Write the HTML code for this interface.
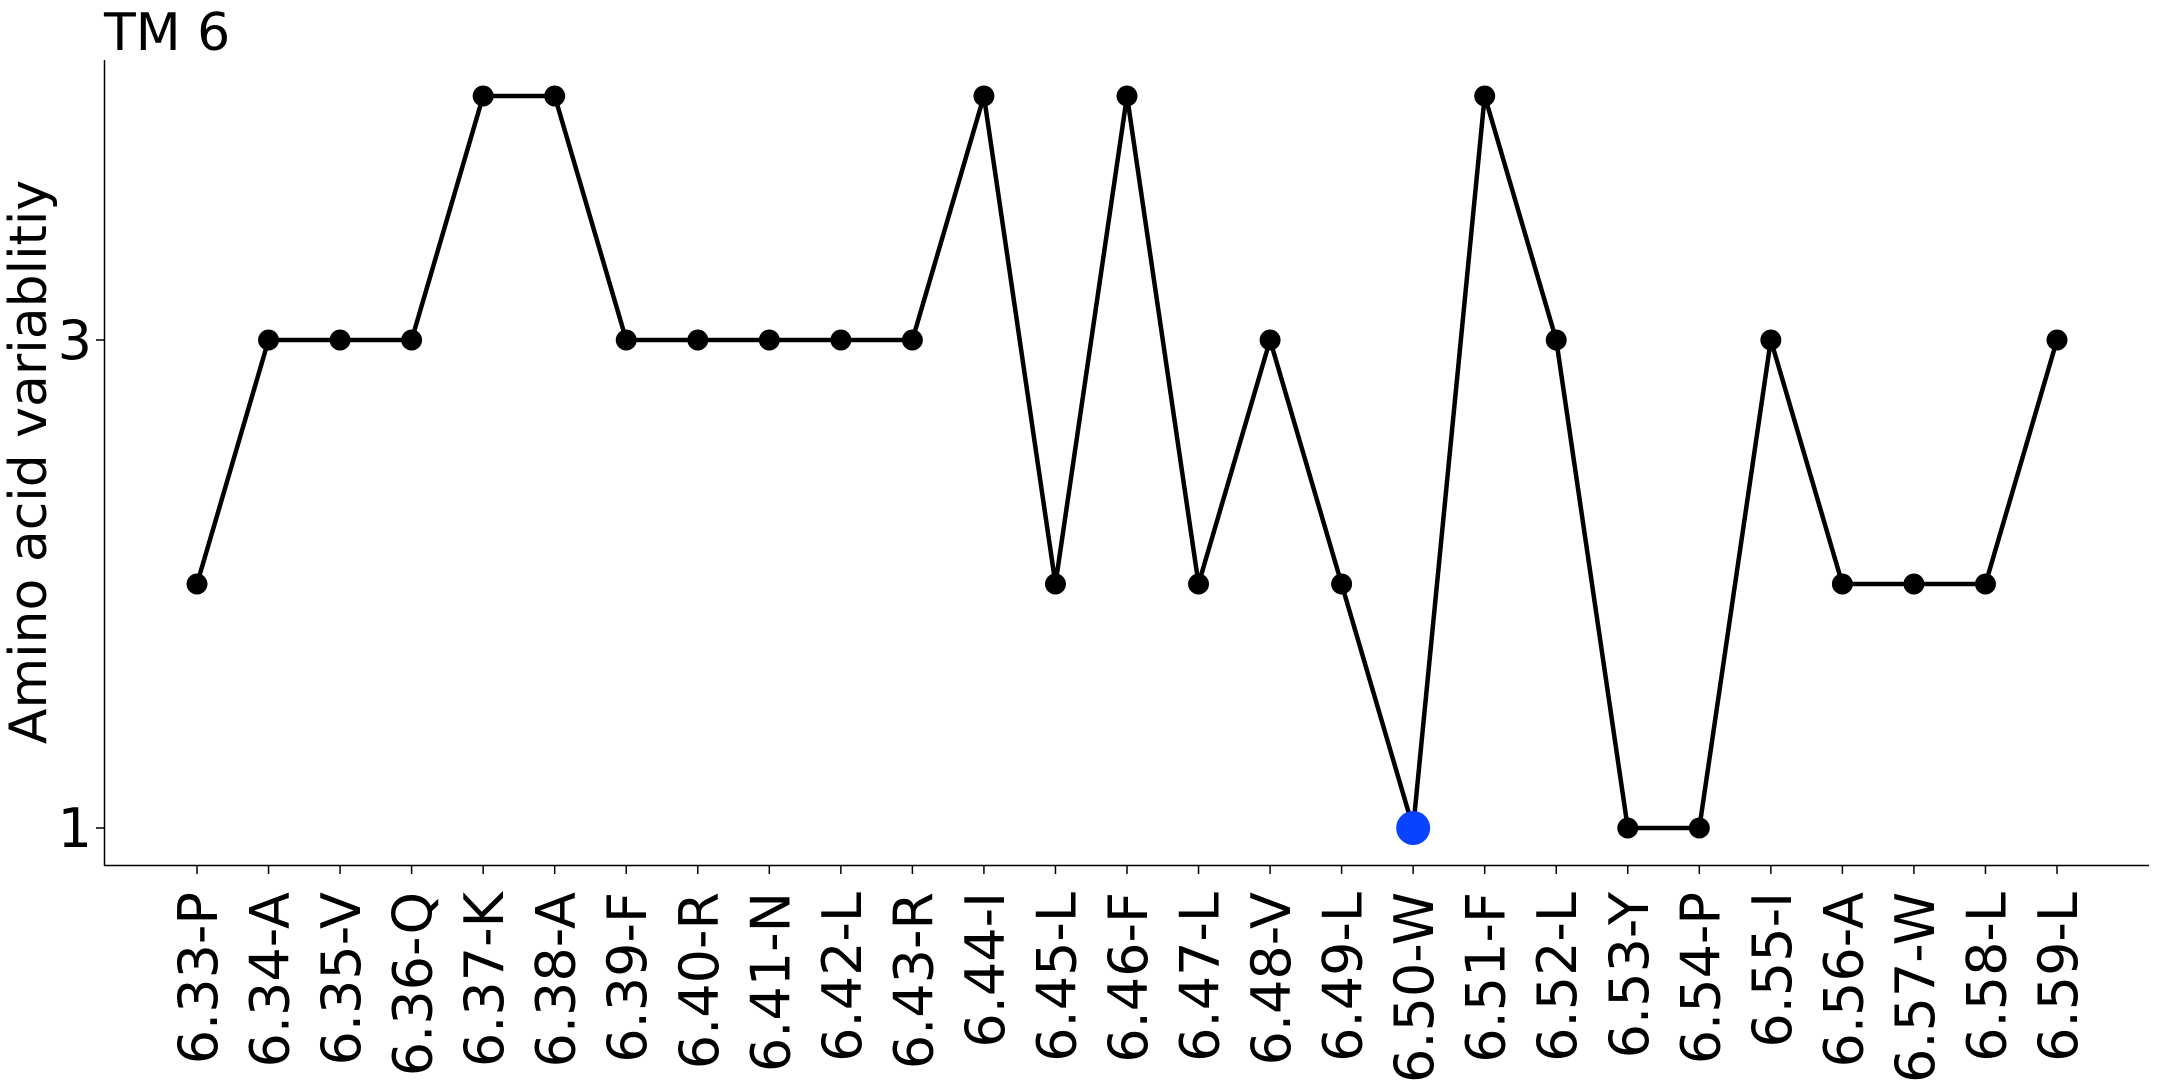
<!DOCTYPE html>
<html><head><meta charset="utf-8"><style>
html,body{margin:0;padding:0;background:#fff;}
svg{display:block;font-family:"DejaVu Sans","Liberation Sans",sans-serif;}
</style></head><body>
<svg id="chart" width="2160" height="1080" viewBox="0 0 2160 1080" xmlns="http://www.w3.org/2000/svg">
<text x="104" y="50" font-size="52" fill="#000">TM 6</text>
<text transform="translate(46,462) rotate(-90)" text-anchor="middle" font-size="52" fill="#000">Amino acid variablitiy</text>
<line x1="104.5" y1="60" x2="104.5" y2="866" stroke="#000" stroke-width="1.5"/>
<line x1="104" y1="865.5" x2="2149" y2="865.5" stroke="#000" stroke-width="1.5"/>
<g id="ticks"></g>
<polyline id="series-line" fill="none" stroke="#000" stroke-width="4.5" stroke-linejoin="miter"/>
<g id="points"></g>
</svg>
<script>
const categories = ["6.33-P","6.34-A","6.35-V","6.36-Q","6.37-K","6.38-A","6.39-F","6.40-R","6.41-N","6.42-L","6.43-R","6.44-I","6.45-L","6.46-F","6.47-L","6.48-V","6.49-L","6.50-W","6.51-F","6.52-L","6.53-Y","6.54-P","6.55-I","6.56-A","6.57-W","6.58-L","6.59-L"];
const values = [2,3,3,3,4,4,3,3,3,3,3,4,2,4,2,3,2,1,4,3,1,1,3,2,2,2,3];
const yTicks = [1,3];
const highlightIndex = 17;

const NS = "http://www.w3.org/2000/svg";
const x0 = 197, x1 = 2057;
function xPos(i){ return x0 + i*(x1-x0)/(categories.length-1); }
function yPos(v){ return 828 - (v-1)*(828-340)/2; }

const ticks = document.getElementById('ticks');
const pts = document.getElementById('points');
yTicks.forEach(v=>{
  const l = document.createElementNS(NS,'line');
  l.setAttribute('x1',96); l.setAttribute('x2',104); l.setAttribute('y1',yPos(v)); l.setAttribute('y2',yPos(v));
  l.setAttribute('stroke','#000'); l.setAttribute('stroke-width','1.5');
  
  
  ticks.appendChild(l);
  const t = document.createElementNS(NS,'text');
  t.setAttribute('x',92); t.setAttribute('y',yPos(v)+19); t.setAttribute('text-anchor','end');
  t.setAttribute('font-size','54'); t.textContent = v;
  
  
  ticks.appendChild(t);
});
categories.forEach((c,i)=>{
  const x = xPos(i);
  const l = document.createElementNS(NS,'line');
  l.setAttribute('x1',x); l.setAttribute('x2',x); l.setAttribute('y1',866); l.setAttribute('y2',874);
  l.setAttribute('stroke','#000'); l.setAttribute('stroke-width','1.5');
  
  
  ticks.appendChild(l);
  const t = document.createElementNS(NS,'text');
  t.setAttribute('transform','translate('+(x+20)+',892) rotate(-90)');
  t.setAttribute('text-anchor','end'); t.setAttribute('font-size','54');
  t.textContent = c;
  
  
  ticks.appendChild(t);
});
document.getElementById('series-line').setAttribute('points', values.map((v,i)=>xPos(i)+','+yPos(v)).join(' '));
values.forEach((v,i)=>{
  const c = document.createElementNS(NS,'circle');
  c.setAttribute('cx',xPos(i)); c.setAttribute('cy',yPos(v));
  if(i===highlightIndex){ c.setAttribute('r',17); c.setAttribute('fill','#0a43ff'); }
  else { c.setAttribute('r',10.5); c.setAttribute('fill','#000'); }
  
  
  pts.appendChild(c);
});
</script>
</body></html>
